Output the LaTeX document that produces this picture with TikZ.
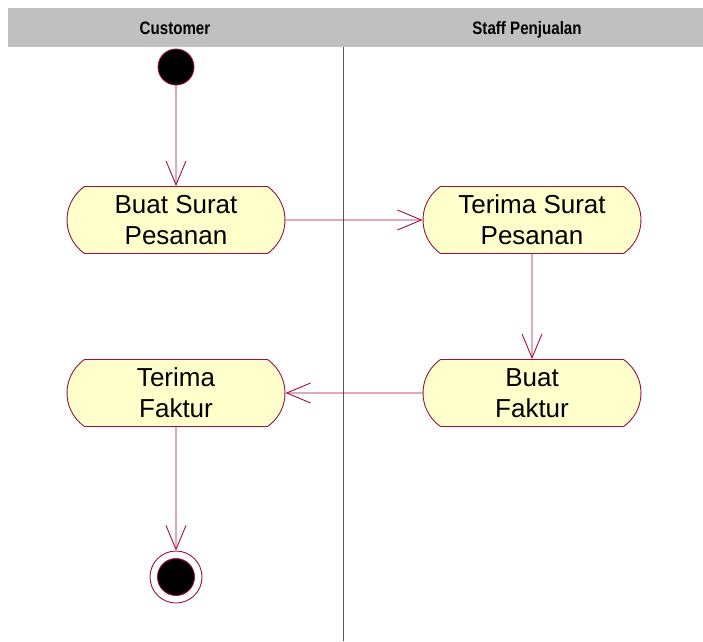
\documentclass[tikz,border=0pt]{standalone}
\usepackage{fontspec}
\setmainfont{Liberation Sans}
\newfontfamily\headfont[FakeStretch=0.84]{Liberation Sans Bold}
\usetikzlibrary{shapes.misc, arrows.meta}
\definecolor{umlline}{RGB}{160,16,64}
\definecolor{umlfill}{RGB}{255,255,204}
\definecolor{laneband}{RGB}{192,192,192}

\begin{document}
\begin{tikzpicture}[x=1pt, y=-1pt,
    act/.style={draw=umlline, fill=umlfill, line width=0.9pt, rounded rectangle, rounded rectangle arc length=110, minimum width=218pt, minimum height=67pt, inner sep=0pt, align=center, font=\fontsize{26}{31}\selectfont},
    flow/.style={draw=umlline, line width=0.9pt, -{Straight Barb[length=24pt, width=20pt, line width=0.9pt]}},
    lane/.style={anchor=base, font=\headfont\fontsize{18}{20}\selectfont}]
    \useasboundingbox (0,0) rectangle (703,641);

    % swimlanes
    \fill[laneband] (8,8) rectangle (703,47);
    \draw[gray!70!black, line width=0.6pt] (343,47) -- (343,641);
    \node[lane] (cust) at (175,34) {Customer};
    \node[lane] (staff) at (527,34) {Staff Penjualan};

    % states
    \node[draw=umlline, fill=black, circle, line width=0.9pt, minimum size=36pt, inner sep=0pt] (start) at (176,67) {};
    \node[act] (A1) at (176,220) {Buat Surat\\Pesanan};
    \node[act] (A2) at (532,220) {Terima Surat\\Pesanan};
    \node[act] (A3) at (532,393) {Buat\\Faktur};
    \node[act] (A4) at (176,393) {Terima\\Faktur};
    \node[draw=umlline, fill=white, circle, line width=0.9pt, minimum size=52pt, inner sep=0pt] (stop) at (176,577) {};
    \node[draw=umlline, fill=black, circle, line width=0.9pt, minimum size=37pt, inner sep=0pt] (stopdot) at (176,577) {};

    \draw[flow] (start) -- (A1);
    \draw[flow] (A1) -- (A2);
    \draw[flow] (A2) -- (A3);
    \draw[flow] (A3) -- (A4);
    \draw[flow] (A4) -- (stop);
\end{tikzpicture}
\end{document}
